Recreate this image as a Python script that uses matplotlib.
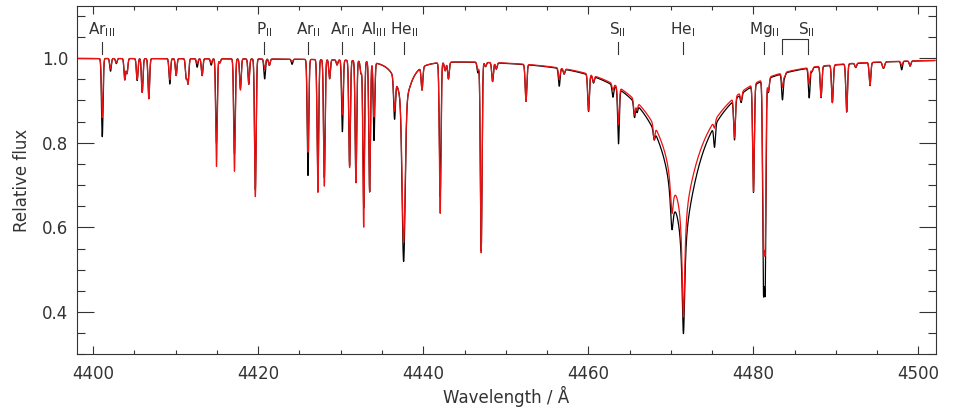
import numpy as np
import matplotlib.pyplot as plt
from matplotlib.ticker import MultipleLocator

# sharp lines: centre (A), depth in black model, depth in red model, gaussian sigma (A)
line_wave = [4401.10, 4402.10, 4402.80, 4403.83, 4404.10, 4405.33, 4405.94, 4406.74,
             4409.28, 4410.05, 4411.27, 4411.50, 4412.60, 4413.20, 4414.30, 4414.94,
             4415.34, 4417.12, 4417.84, 4418.85, 4419.65, 4420.78, 4421.35, 4424.10,
             4426.03, 4427.23, 4428.01, 4428.65, 4429.55, 4430.20, 4431.07, 4431.84,
             4432.45, 4432.78, 4433.50, 4434.03, 4436.52, 4437.62, 4439.85, 4442.05,
             4442.65, 4443.05, 4446.62, 4447.02, 4447.55, 4448.40, 4448.85, 4452.45,
             4456.48, 4457.07, 4460.03, 4460.63, 4462.98, 4463.66, 4465.60, 4465.90,
             4467.98, 4475.30, 4477.72, 4478.53, 4480.02, 4481.23, 4481.43, 4481.83,
             4483.53, 4483.80, 4486.77, 4487.10, 4488.21, 4489.58, 4491.31, 4492.41,
             4494.14, 4495.70, 4495.85, 4497.98, 4499.00]
depth_black = [0.185, 0.030, 0.012, 0.050, 0.035, 0.052, 0.080, 0.095,
               0.060, 0.040, 0.045, 0.058, 0.020, 0.040, 0.015, 0.200,
               0.010, 0.225, 0.070, 0.060, 0.310, 0.047, 0.015, 0.012,
               0.275, 0.290, 0.280, 0.045, 0.012, 0.170, 0.250, 0.290,
               0.030, 0.350, 0.310, 0.186, 0.100, 0.420, 0.055, 0.320,
               0.020, 0.040, 0.025, 0.450, 0.010, 0.045, 0.015, 0.088,
               0.043, 0.012, 0.090, 0.016, 0.030, 0.140, 0.040, 0.020,
               0.025, 0.060, 0.105, 0.022, 0.270, 0.500, 0.500, 0.035,
               0.064, 0.010, 0.072, 0.010, 0.075, 0.090, 0.115, 0.010,
               0.055, 0.010, 0.010, 0.020, 0.012]
depth_red = [0.140, 0.025, 0.010, 0.050, 0.035, 0.050, 0.080, 0.095,
             0.050, 0.040, 0.045, 0.058, 0.012, 0.040, 0.010, 0.255,
             0.010, 0.266, 0.074, 0.060, 0.326, 0.025, 0.015, 0.006,
             0.220, 0.315, 0.300, 0.045, 0.012, 0.130, 0.255, 0.290,
             0.030, 0.395, 0.310, 0.130, 0.080, 0.370, 0.055, 0.360,
             0.020, 0.040, 0.020, 0.455, 0.010, 0.045, 0.015, 0.088,
             0.028, 0.012, 0.090, 0.016, 0.015, 0.095, 0.040, 0.020,
             0.040, 0.020, 0.105, 0.022, 0.270, 0.400, 0.400, 0.035,
             0.036, 0.010, 0.040, 0.010, 0.075, 0.090, 0.115, 0.010,
             0.055, 0.010, 0.010, 0.010, 0.012]
line_sigma = [0.095] * 36 + [0.11, 0.18] + [0.10] * 39

# pressure broadened helium components: centre, depth black, depth red, half width, wing power
broad_wave = [4471.55, 4471.55, 4471.53, 4470.13, 4470.13, 4437.62]
broad_depth_black = [0.12, 0.25, 0.268, 0.02, 0.10, 0.10]
broad_depth_red = [0.12, 0.20, 0.279, 0.02, 0.094, 0.10]
broad_width = [7.0, 2.0, 0.20, 1.5, 0.22, 1.0]
broad_power = [2.3, 1.8, 2.0, 2.0, 2.0, 2.0]

# line identifications
ident_wave = [4401.02, 4420.75, 4426.00, 4430.16, 4433.99, 4437.62, 4463.54, 4471.46, 4481.31]
ident_text = [r'Ar$_{\rm III}$', r'P$_{\rm II}$', r'Ar$_{\rm II}$', r'Ar$_{\rm II}$',
              r'Al$_{\rm III}$', r'He$_{\rm II}$', r'S$_{\rm II}$', r'He$_{\rm I}$', r'Mg$_{\rm II}$']
s2_pair = [4483.49, 4486.68]


def spectrum(wave, depths_narrow, depths_broad):
    depress = np.zeros_like(wave)
    for c, d, w, p in zip(broad_wave, depths_broad, broad_width, broad_power):
        depress += d / (1.0 + np.abs((wave - c) / w) ** p)
    flux = 1.0 - depress
    for c, d, s in zip(line_wave, depths_narrow, line_sigma):
        flux *= 1.0 - d * np.exp(-0.5 * ((wave - c) / s) ** 2)
    return flux


wave = np.arange(4398.0, 4502.0, 0.005)
flux_black = spectrum(wave, depth_black, broad_depth_black)
flux_red = spectrum(wave, depth_red, broad_depth_red)

txt = '#333333'
plt.rcParams['font.family'] = 'DejaVu Sans'
fig = plt.figure(figsize=(9.54, 4.17), dpi=100)
ax = fig.add_axes([0.0804, 0.1503, 0.9004, 0.8353])

ax.plot(wave, flux_black, color='black', lw=0.9)
ax.plot(wave, flux_red, color='#ee1111', lw=0.9)

ax.set_xlim(4398.0, 4502.1)
ax.set_ylim(0.30, 1.123)

# identification marks
for x, s in zip(ident_wave, ident_text):
    ax.plot([x, x], [1.010, 1.038], color=txt, lw=0.8)
    ax.text(x, 1.057, s, ha='center', va='baseline', fontsize=11, color=txt)
ax.plot([s2_pair[0], s2_pair[0], s2_pair[1], s2_pair[1]],
        [1.010, 1.046, 1.046, 1.010], color=txt, lw=0.8)
ax.text(s2_pair[1] - 0.2, 1.057, r'S$_{\rm II}$', ha='center', va='baseline',
        fontsize=11, color=txt)

ax.xaxis.set_major_locator(MultipleLocator(20))
ax.xaxis.set_minor_locator(MultipleLocator(5))
ax.yaxis.set_major_locator(MultipleLocator(0.2))
ax.yaxis.set_minor_locator(MultipleLocator(0.05))
ax.tick_params(axis='both', which='both', direction='in', top=True, right=True,
               colors=txt, labelsize=12, width=0.8)
ax.tick_params(axis='x', which='major', length=5.5, pad=8)
ax.tick_params(axis='x', which='minor', length=3)
ax.tick_params(axis='y', which='major', length=12, pad=6)
ax.tick_params(axis='y', which='minor', length=6)
for sp in ax.spines.values():
    sp.set_color(txt)
    sp.set_linewidth(0.8)

ax.set_xlabel('Wavelength / Å', fontsize=12, color=txt, labelpad=2)
ax.set_ylabel('Relative flux', fontsize=12, color=txt, labelpad=8)

fig.savefig('out.png', dpi=100)
